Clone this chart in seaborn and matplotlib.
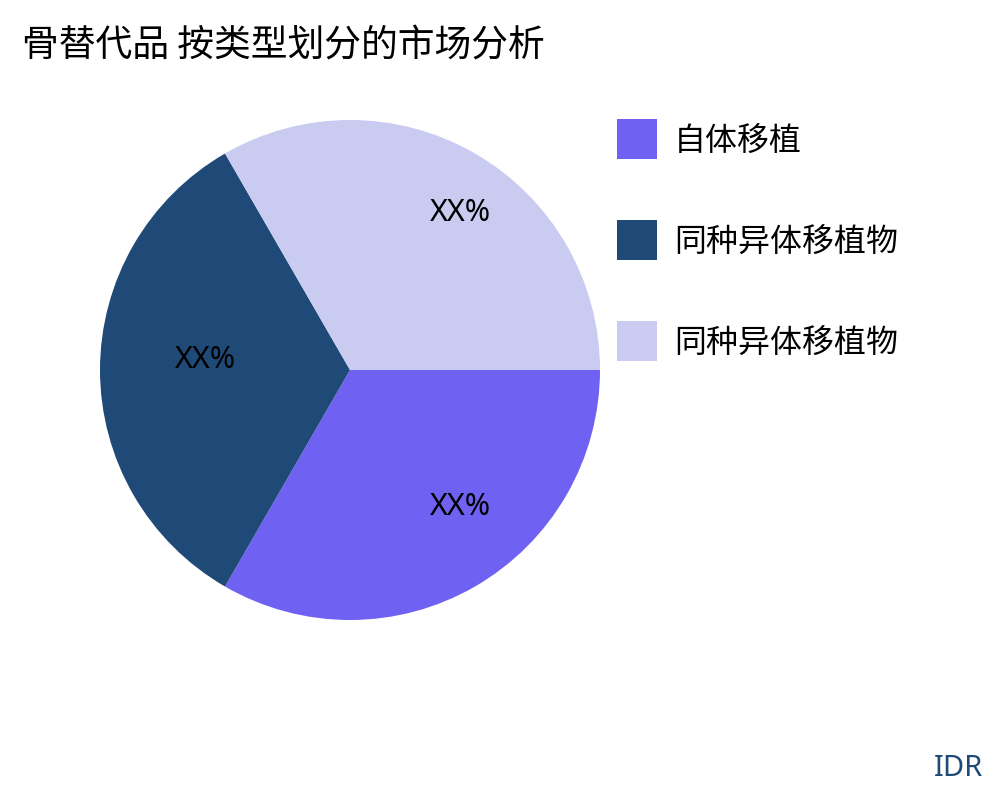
import numpy as np
import seaborn as sns
import matplotlib.pyplot as plt
from matplotlib.patches import Patch

# data
labels = ['自体移植', '同种异体移植物', '同种异体移植物']
shares = [1, 1, 1]
pct_text = ['XX%', 'XX%', 'XX%']
colors = ['#6f62f2', '#1f4a78', '#c9cbf0']

sns.set_theme(style="white")
plt.rcParams['font.family'] = ['Noto Sans CJK SC', 'DejaVu Sans']
plt.rcParams['text.color'] = 'black'

fig = plt.figure(figsize=(10, 8), dpi=100)
ax = fig.add_axes([0.1, 0.225, 0.5, 0.625])

palette = sns.color_palette(colors)
wedges, texts = ax.pie(shares, colors=palette, startangle=0, counterclock=False,
                       radius=1, wedgeprops=dict(linewidth=0))
# percentage labels near the middle of each wedge
for w, t in zip(wedges, pct_text):
    ang = np.radians((w.theta1 + w.theta2) / 2)
    r = 0.68
    ax.text(r * np.cos(ang) + 0.1, r * np.sin(ang) + 0.04, t,
            ha='center', va='center', fontsize=22, family=['Noto Sans', 'DejaVu Sans'])
ax.set_xlim(-1, 1)
ax.set_ylim(-1, 1)
ax.axis('off')

fig.text(0.022, 0.942, '骨替代品 按类型划分的市场分析', fontsize=26.5, ha='left', va='center')

handles = [Patch(facecolor=c, edgecolor='none') for c in colors]
fig.legend(handles, labels, loc='upper left', bbox_to_anchor=(0.588, 0.887),
           frameon=False, fontsize=23, handlelength=1.25, handleheight=1.55,
           labelspacing=1.91, handletextpad=0.55)

fig.text(0.983, 0.04, 'IDR', fontsize=21, color='#1f4a78', ha='right', va='center',
         family=['Noto Sans', 'DejaVu Sans'])

fig.savefig('out.png', dpi=100)
